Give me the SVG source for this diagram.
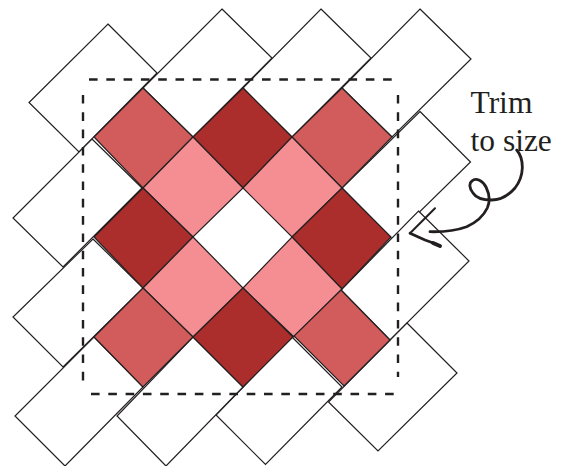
<svg xmlns="http://www.w3.org/2000/svg" width="566" height="466" viewBox="0 0 566 466">
<style>
polygon{stroke:#231f20;stroke-width:1.2;stroke-linejoin:miter}
.w{fill:#fff}.d{fill:#ab2d2c}.m{fill:#d25b5b}.l{fill:#f48e93}
.trim{fill:none;stroke:#231f20;stroke-width:2.4;stroke-dasharray:8.6 8.7}
.curl{fill:none;stroke:#231f20;stroke-width:2.8;stroke-linecap:round;stroke-linejoin:round}
text{font-family:"Liberation Serif","Times New Roman",serif;font-size:31.5px;fill:#231f20}
</style>
<g id="margins">
<polygon id="w1" class="w" points="108,24 157,73 79,152 29,102.500"/>
<polygon id="w2" class="w" points="222,9 272,58 193,137 143,88"/>
<polygon id="w3" class="w" points="321,9 371,58 292,137 243,88"/>
<polygon id="w4" class="w" points="420,9 471,59 392,137 342,88"/>
<polygon id="w5" class="w" points="420,111.500 470.500,162 392,239 342,188"/>
<polygon id="w6" class="w" points="418.500,211 469,261 390,340 341,290"/>
<polygon id="w7" class="w" points="407,323 457,373 378,451 328.500,402"/>
<polygon id="w8" class="w" points="292,337 342,387 265.500,464.500 216,415"/>
<polygon id="w9" class="w" points="193,337 243,387 166,466 117,416"/>
<polygon id="w10" class="w" points="94,337 143,387 65,466 15,416"/>
<polygon id="w11" class="w" points="93,239 143,288 63,367 13,317"/>
<polygon id="w12" class="w" points="92,139 142,188 63,267 13,218"/>
</g>
<g id="patches">
<polygon id="p1" class="m" points="143,88 193,137 143,188 94,137"/>
<polygon id="p2" class="d" points="243,88 292,137 243,188 193,137"/>
<polygon id="p3" class="m" points="342,88 392,137 342,188 292,137"/>
<polygon id="p4" class="l" points="193,137 243,188 193,237 143,188"/>
<polygon id="p5" class="l" points="292,137 342,188 292,237 243,188"/>
<polygon id="p6" class="d" points="143,188 193,237 143,288 94,237"/>
<polygon id="p7" class="d" points="342,188 391,237 342,289 292,237"/>
<polygon id="p8" class="l" points="193,237 243,288 193,337 143,288"/>
<polygon id="p9" class="l" points="292,237 342,289 294,337 243,288"/>
<polygon id="p10" class="m" points="143,288 193,337 143,387 94,337"/>
<polygon id="p11" class="d" points="243,288 293,337 243,387 193,337"/>
<polygon id="p12" class="m" points="341,290 390,340 344,386 294,336"/>
</g>
<g id="connectors">
<path id="trim-top" class="trim" d="M89,79.500H393"/>
<path id="trim-right" class="trim" d="M398,95V377"/>
<path id="trim-bottom" class="trim" d="M91,394H394"/>
<path id="trim-left" class="trim" d="M83,95V382"/>
<path id="arrow-curl" class="curl" d="M516.700,150C521,155 522.500,162 522.300,168.300C522,176 519,183 515,188C508,196 500,200 491.700,200C484,200 476,198 473,193C469,188 469,183 472,181C476,177 483,181 486,187C490,195 490,202 487.300,208C483,217 475,223 466.700,226.700C455,231 442,232 430,231.700"/>
<path id="arrow-head-a" class="curl" style="stroke-width:2" d="M435,208.300L410,233.300"/>
<path id="arrow-head-b" class="curl" d="M410,233.300L425,240L436,244"/>
<path id="arrow-head-c" class="curl" style="stroke-width:4" d="M433,243L440,246"/>
</g>
<g id="label">
<text x="470.500" y="112.700">Trim</text>
<text x="470.500" y="150.700">to size</text>
</g>
</svg>
